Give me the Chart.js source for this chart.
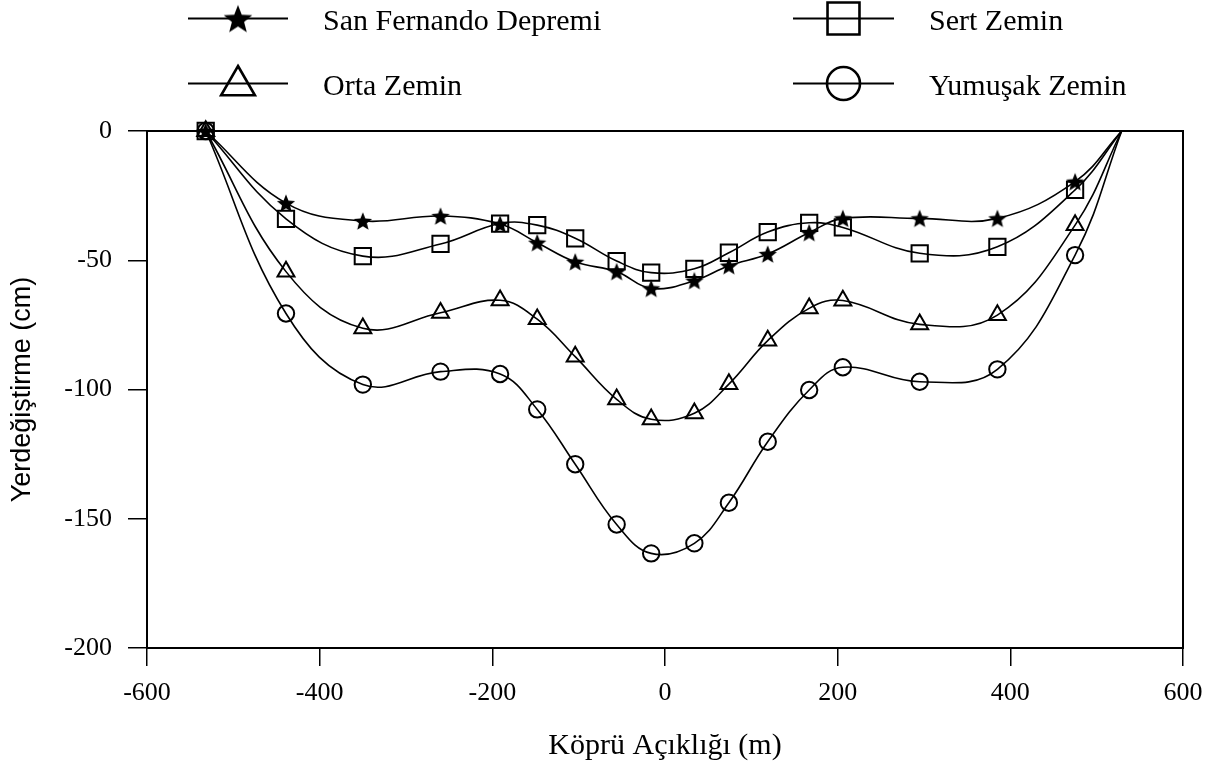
<!DOCTYPE html>
<html>
<head>
<meta charset="utf-8">
<title>Köprü Açıklığı - Yerdeğiştirme</title>
<script src="https://cdn.jsdelivr.net/npm/chart.js@4.4.1/dist/chart.umd.min.js"></script>
<style>
  html, body { margin: 0; padding: 0; background: #ffffff; }
  #wrap { width: 1211px; height: 772px; }
</style>
</head>
<body>
<div id="wrap"><canvas id="chart" width="1211" height="772"></canvas></div>
<script>
// Positions along the bridge span (m)
const spanPositions = [-532, -439, -350, -260, -191, -148, -104, -56, -16, 34, 74, 119, 167, 206, 295, 385, 475, 529];

// Displacement (cm) for each record / soil type
const sanFernando = [0, -27.9, -34.8, -32.9, -36.0, -43.2, -50.6, -54.4, -60.9, -57.9, -52.1, -47.6, -39.3, -33.8, -33.8, -33.8, -19.6, 0];
const sertZemin   = [0, -34.0, -48.4, -43.7, -35.8, -36.4, -41.5, -50.3, -54.8, -53.3, -47.1, -39.1, -35.5, -37.3, -47.3, -44.8, -22.8, 0];
const ortaZemin   = [0, -54.4, -76.3, -70.3, -65.5, -72.8, -87.3, -103.8, -111.5, -109.2, -97.9, -81.1, -68.6, -65.6, -74.8, -71.2, -36.4, 0];
const yumusakZemin = [0, -70.6, -98.1, -93.1, -94.0, -107.7, -128.9, -152.2, -163.4, -159.5, -143.8, -120.2, -100.2, -91.4, -97.0, -92.2, -48.0, 0];

const seriesNames = ['San Fernando Depremi', 'Sert Zemin', 'Orta Zemin', 'Yumuşak Zemin'];

// Axis ticks
const xTicks = [-600, -400, -200, 0, 200, 400, 600];
const yTicks = [-200, -150, -100, -50, 0];

const xTitle = 'Köprü Açıklığı (m)';
const yTitle = 'Yerdeğiştirme (cm)';

const SERIF = '"Liberation Serif", "Times New Roman", serif';
const SANS = '"Liberation Sans", Arial, sans-serif';

// Filled five-point star used as a marker
function makeStar(outer, inner) {
  const size = Math.ceil(outer * 2 + 4);
  const c = document.createElement('canvas');
  c.width = size; c.height = size;
  const g = c.getContext('2d');
  const cx = size / 2, cy = size / 2 + outer * 0.1;
  g.beginPath();
  for (let i = 0; i < 10; i++) {
    const r = i % 2 === 0 ? outer : inner;
    const a = -Math.PI / 2 + i * Math.PI / 5;
    const px = cx + r * Math.cos(a), py = cy + r * Math.sin(a);
    if (i === 0) g.moveTo(px, py); else g.lineTo(px, py);
  }
  g.closePath();
  g.fillStyle = '#000';
  g.fill();
  return c;
}
const starSmall = makeStar(9.6, 4.2);
const starLarge = makeStar(15, 6.4);

function toPoints(values) {
  return spanPositions.map((x, i) => ({ x: x, y: values[i] }));
}

// No marker on the closing support point
const lastIdx = spanPositions.length - 1;
function radiusFor(r) {
  return ctx => (ctx.dataIndex === lastIdx ? 0 : r);
}

const common = {
  borderColor: '#000',
  borderWidth: 1.6,
  tension: 0.4,
  fill: false,
  clip: false,
  pointBorderColor: '#000',
  pointBackgroundColor: 'rgba(0,0,0,0)',
  pointBorderWidth: 2,
  pointHoverRadius: 0
};

const datasets = [
  Object.assign({}, common, { label: seriesNames[0], data: toPoints(sanFernando), pointStyle: starSmall, pointRadius: radiusFor(9.6) }),
  Object.assign({}, common, { label: seriesNames[1], data: toPoints(sertZemin), pointStyle: 'rect', pointRadius: radiusFor(11.5) }),
  Object.assign({}, common, { label: seriesNames[2], data: toPoints(ortaZemin), pointStyle: 'triangle', pointRadius: radiusFor(9.8) }),
  Object.assign({}, common, { label: seriesNames[3], data: toPoints(yumusakZemin), pointStyle: 'circle', pointRadius: radiusFor(8.2) })
];

// Closed frame around the plotting area
const framePlugin = {
  id: 'frame',
  beforeDatasetsDraw(chart) {
    const { ctx, chartArea: a } = chart;
    ctx.save();
    ctx.strokeStyle = '#000';
    ctx.lineWidth = 2;
    ctx.strokeRect(a.left, a.top, a.right - a.left, a.bottom - a.top);
    ctx.restore();
  }
};

// Two-column legend: line with centred marker, then label
const legendPlugin = {
  id: 'lineLegend',
  afterDraw(chart) {
    const { ctx } = chart;
    const entries = [
      { col: 0, row: 0, ds: 0, style: starLarge, r: 15 },
      { col: 1, row: 0, ds: 1, style: 'rect', r: 22.6 },
      { col: 0, row: 1, ds: 2, style: 'triangle', r: 19.5 },
      { col: 1, row: 1, ds: 3, style: 'circle', r: 16.5 }
    ];
    const cols = [{ x0: 188, x1: 288, tx: 323 }, { x0: 793, x1: 894, tx: 929 }];
    const rows = [{ ly: 18.5, by: 29.5 }, { ly: 83.5, by: 94.5 }];
    ctx.save();
    entries.forEach(e => {
      const c = cols[e.col], rw = rows[e.row];
      const mx = (c.x0 + c.x1) / 2;
      ctx.strokeStyle = '#000';
      ctx.lineWidth = 1.8;
      ctx.beginPath();
      ctx.moveTo(c.x0, rw.ly);
      ctx.lineTo(c.x1, rw.ly);
      ctx.stroke();
      ctx.fillStyle = 'rgba(0,0,0,0)';
      ctx.strokeStyle = '#000';
      ctx.lineWidth = 2.6;
      const my = e.style === 'triangle' ? rw.ly + 2 : rw.ly;
      Chart.helpers.drawPoint(ctx, { pointStyle: e.style, radius: e.r, rotation: 0, borderWidth: 2.6 }, mx, my);
      ctx.fillStyle = '#000';
      ctx.font = '30px ' + SERIF;
      ctx.textAlign = 'left';
      ctx.textBaseline = 'alphabetic';
      ctx.fillText(chart.data.datasets[e.ds].label, c.tx, rw.by);
    });
    ctx.restore();
  }
};

new Chart(document.getElementById('chart'), {
  type: 'line',
  data: { datasets: datasets },
  plugins: [framePlugin, legendPlugin],
  options: {
    responsive: false,
    animation: false,
    devicePixelRatio: 1,
    layout: { padding: { top: 131, right: 28, left: 0, bottom: 0 } },
    plugins: { legend: { display: false }, tooltip: { enabled: false } },
    events: [],
    scales: {
      x: {
        type: 'linear',
        min: xTicks[0],
        max: xTicks[xTicks.length - 1],
        afterFit: s => { s.height = 124; s.paddingLeft = 0; s.paddingRight = 0; },
        afterBuildTicks: s => { s.ticks = xTicks.map(v => ({ value: v })); },
        ticks: { color: '#000', font: { family: SERIF, size: 26 }, padding: 12, maxRotation: 0 },
        grid: { drawOnChartArea: false, drawTicks: true, tickLength: 18, color: '#000', lineWidth: 1.5 },
        border: { display: true, color: '#000', width: 2 },
        title: { display: true, text: xTitle, color: '#000', font: { family: SERIF, size: 30 }, padding: { top: 0, bottom: 8 } }
      },
      y: {
        type: 'linear',
        min: yTicks[0],
        max: yTicks[yTicks.length - 1],
        afterFit: s => { s.width = 147; s.paddingTop = 0; s.paddingBottom = 0; },
        afterBuildTicks: s => { s.ticks = yTicks.map(v => ({ value: v })); },
        ticks: { color: '#000', font: { family: SERIF, size: 26 }, padding: 16 },
        grid: { drawOnChartArea: false, drawTicks: true, tickLength: 19, color: '#000', lineWidth: 1.5 },
        border: { display: true, color: '#000', width: 2 },
        title: { display: true, text: yTitle, color: '#000', font: { family: SANS, size: 27 }, padding: { top: 6, bottom: 0 } }
      }
    }
  }
});
</script>
</body>
</html>
